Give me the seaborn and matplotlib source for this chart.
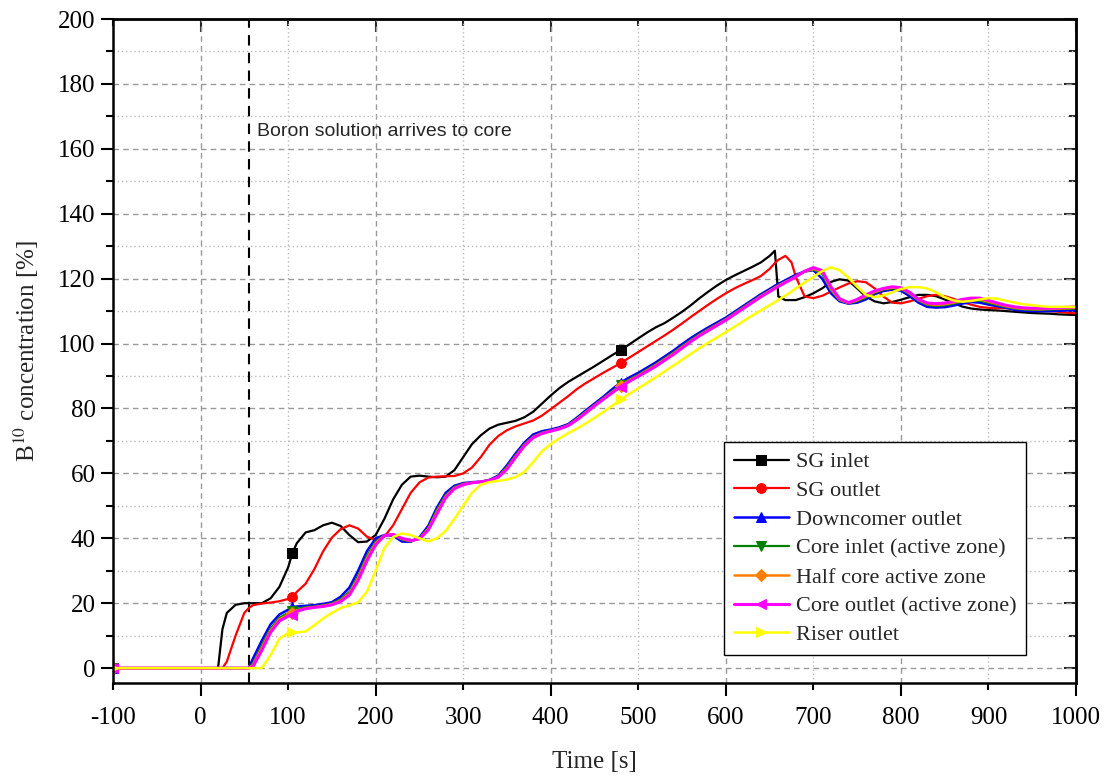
import matplotlib
matplotlib.use("Agg")
import matplotlib.pyplot as plt
from matplotlib.ticker import MultipleLocator, FormatStrFormatter
import pandas as pd
import seaborn as sns

# time grid [s]
time_s = [-100, 0, 10, 20, 25, 30, 40, 50, 55, 60, 70, 80, 90, 100, 105,
          110, 120, 130, 140, 150, 160, 170, 180, 190, 200,
          210, 220, 230, 240, 250, 260, 270, 280, 290, 300,
          310, 320, 330, 340, 350, 360, 370, 380, 390, 400,
          410, 420, 430, 440, 450, 460, 470, 480, 490, 500,
          510, 520, 530, 540, 550, 560, 570, 580, 590, 600,
          610, 620, 630, 640, 650, 656, 660, 668, 670, 675,
          680, 690, 700, 710, 720, 730, 740, 750, 760, 770,
          780, 790, 800, 810, 820, 830, 840, 850, 860, 870,
          880, 890, 900, 910, 920, 930, 940, 950, 960, 970,
          980, 990, 1000]

sg_inlet = [0, 0, 0, 0, 12, 17, 19.5, 20, 20, 20, 20, 21.5, 25, 31, 35.5,
            38.5, 41.8, 42.5, 44, 44.8, 43.8, 41, 38.8, 39, 41,
            46, 52, 56.5, 59, 59.3, 59, 58.8, 59, 61, 65,
            69, 71.7, 73.8, 75, 75.6, 76.2, 77.3, 79, 81.5, 84,
            86.3, 88.2, 89.8, 91.4, 93, 94.7, 96.4, 98, 99.8, 101.6,
            103.4, 105, 106.3, 108, 109.8, 111.8, 114, 116, 117.9, 119.6,
            121, 122.3, 123.6, 125, 127, 128.6, 114.5, 113.4, 113.4, 113.4,
            113.4, 114.3, 115.5, 117, 119, 119.8, 119.4, 117, 114.5, 113,
            112.4, 112.8, 113.5, 114.3, 115, 115, 114.6, 113.6, 112.5, 111.4,
            110.8, 110.5, 110.3, 110.2, 110, 109.8, 109.6, 109.4, 109.3, 109.2,
            109, 108.9, 108.8]

sg_outlet = [0, 0, 0, 0, 0, 2, 10, 17, 18.5, 19.4, 19.9, 20.2, 20.6, 21.3, 22,
             23.5, 26, 30.5, 36, 40.2, 42.8, 44, 43, 40.5, 39.5,
             40.5, 44, 49, 54, 57.2, 58.7, 59, 59.1, 59.2, 60,
             61.8, 65, 68.8, 71.5, 73.3, 74.5, 75.4, 76.3, 77.8, 79.8,
             81.8, 83.8, 86, 87.8, 89.4, 91, 92.5, 94, 95.7, 97.4,
             99.1, 100.8, 102.5, 104.3, 106.2, 108.2, 110.1, 112, 113.8, 115.5,
             117, 118.3, 119.5, 120.8, 123, 124.8, 125.8, 127, 126.5, 125,
             120.5, 114.5, 114, 114.7, 116, 117.3, 118.5, 119.2, 118.9, 117,
             114.5, 112.6, 112.4, 113, 113.8, 114.6, 115, 114.6, 113.8, 112.8,
             112, 111.3, 111, 110.9, 110.9, 110.8, 110.6, 110.4, 110.2, 110,
             109.8, 109.5, 109.3]

downcomer_outlet = [0, 0, 0, 0, 0, 0, 0, 0, 0, 3, 8.5, 13.5, 16.5, 18, 18.7,
                    19, 19.2, 19.4, 19.8, 20.3, 22, 24.8, 30, 36, 40,
                    41, 40.8, 39, 38.9, 40.3, 43.8, 49.5, 54, 56.2, 57,
                    57.3, 57.4, 58, 59.3, 62.5, 66.2, 69.5, 72, 73, 73.5,
                    74.2, 75.2, 77.2, 79.4, 81.5, 83.6, 85.9, 88, 89.6, 91,
                    92.6, 94.2, 96, 97.8, 99.8, 101.7, 103.4, 105, 106.5, 108,
                    109.8, 111.6, 113.4, 115.2, 116.8, 117.8, 118.4, 119.5, 119.8, 120.5,
                    121.2, 122.2, 122.6, 120, 115.5, 113, 112.3, 112.6, 113.6, 115.2,
                    116.2, 116.6, 116.3, 114.6, 112.6, 111.3, 111.1, 111.2, 111.7, 112.3,
                    112.8, 112.6, 112, 111.5, 111, 110.4, 110.1, 110, 110, 110,
                    110.1, 110.2, 110.3]

core_inlet = [0, 0, 0, 0, 0, 0, 0, 0, 0, 1.5, 7, 12.2, 15.5, 17, 17.5,
              18.2, 18.8, 19, 19.4, 19.9, 21.2, 23.5, 28.5, 34.5, 39,
              41, 41, 39.6, 39, 40.1, 43.2, 48.8, 53.3, 55.8, 56.8,
              57.2, 57.4, 57.9, 59.1, 62, 65.6, 69, 71.4, 72.6, 73.2,
              73.9, 75, 76.9, 79, 81.1, 83.2, 85.3, 87.3, 89, 90.4,
              92, 93.6, 95.4, 97.2, 99.2, 101.1, 102.9, 104.5, 106, 107.6,
              109.4, 111.2, 113, 114.8, 116.4, 117.4, 118, 119.1, 119.4, 120.1,
              120.9, 122.2, 122.8, 121.5, 116.5, 113.3, 112.4, 113, 114.2, 115.6,
              116.6, 117, 116.8, 115.3, 113.2, 111.9, 111.6, 111.8, 112.3, 112.9,
              113.3, 113.2, 112.6, 111.9, 111.3, 110.8, 110.5, 110.4, 110.4, 110.5,
              110.6, 110.7, 110.8]

half_core = [0, 0, 0, 0, 0, 0, 0, 0, 0, 1, 6.2, 11.6, 15, 16.5, 17,
             17.8, 18.5, 18.8, 19.2, 19.7, 20.8, 23, 27.8, 33.8, 38.5,
             40.9, 41.1, 39.8, 39.1, 39.9, 42.8, 48.1, 52.9, 55.5, 56.6,
             57.1, 57.4, 57.8, 58.9, 61.6, 65.3, 68.7, 71.2, 72.4, 73.1,
             73.8, 74.8, 76.7, 78.8, 80.9, 83, 85, 87, 88.7, 90.1,
             91.7, 93.3, 95.1, 96.9, 98.9, 100.8, 102.6, 104.2, 105.8, 107.4,
             109.2, 111, 112.8, 114.6, 116.2, 117.2, 117.8, 119, 119.2, 119.9,
             120.7, 122.2, 123, 122.2, 116.8, 113.5, 112.5, 113.3, 114.6, 115.9,
             116.8, 117.2, 117, 115.5, 113.4, 112.2, 111.9, 112.1, 112.6, 113.2,
             113.6, 113.6, 112.9, 112.2, 111.5, 111, 110.7, 110.6, 110.6, 110.7,
             110.8, 110.9, 111]

core_outlet = [0, 0, 0, 0, 0, 0, 0, 0, 0, 0.5, 5.5, 11, 14.5, 16, 16.4,
               17.5, 18.3, 18.7, 19, 19.5, 20.5, 22.5, 27, 33, 38,
               40.8, 41.2, 40, 39.3, 39.8, 42.5, 47.5, 52.5, 55.3, 56.5,
               57.1, 57.4, 57.8, 58.8, 61.3, 65, 68.5, 71, 72.3, 73,
               73.7, 74.7, 76.5, 78.6, 80.8, 82.8, 84.8, 86.7, 88.4, 89.9,
               91.4, 93, 94.8, 96.6, 98.6, 100.6, 102.4, 104, 105.6, 107.2,
               109, 110.8, 112.6, 114.4, 116, 117, 117.6, 118.8, 119.1, 119.8,
               120.6, 122.3, 123.4, 122.5, 117.5, 113.8, 112.6, 113.6, 115, 116.2,
               117, 117.5, 117.2, 115.8, 113.6, 112.5, 112.3, 112.5, 113, 113.6,
               114, 114, 113.3, 112.5, 111.8, 111.3, 111, 110.9, 110.9, 110.9,
               111, 111.2, 111.3]

riser_outlet = [0, 0, 0, 0, 0, 0, 0, 0, 0, 0, 0, 4, 9, 10.8, 11,
                11, 11.3, 13.2, 15.3, 17, 18.5, 19.3, 20.3, 23.5, 30,
                37, 40.4, 41.5, 41, 40, 39, 40, 42.3, 46, 50,
                54, 56.5, 57.3, 57.7, 58.1, 58.9, 60.5, 63.5, 66.8, 69,
                70.8, 72.4, 73.8, 75.4, 77.1, 78.9, 80.8, 82.8, 84.5, 86.2,
                87.9, 89.6, 91.4, 93.2, 95, 96.8, 98.6, 100.3, 101.9, 103.5,
                105.2, 106.9, 108.6, 110.2, 111.8, 112.8, 113.4, 114.8, 115.1, 116,
                117, 118.8, 120.5, 122.3, 123.5, 122.6, 120.3, 117.5, 115, 114.3,
                114.8, 115.8, 116.8, 117.4, 117.4, 117, 115.8, 114.3, 113.3, 112.9,
                113.1, 113.6, 114, 113.8, 113.2, 112.6, 112.1, 111.8, 111.5, 111.3,
                111.3, 111.3, 111.3]

series = [
    ("SG inlet", sg_inlet, "#000000", "s", 1.6),
    ("SG outlet", sg_outlet, "#ff0000", "o", 1.6),
    ("Downcomer outlet", downcomer_outlet, "#0000ff", "^", 1.8),
    ("Core inlet (active zone)", core_inlet, "#008000", "v", 1.6),
    ("Half core active zone", half_core, "#ff8000", "D", 1.8),
    ("Core outlet (active zone)", core_outlet, "#ff00ff", "<", 2.2),
    ("Riser outlet", riser_outlet, "#ffff00", ">", 1.8),
]
marker_times = [-100, 105, 480]
arrival_time = 55

sns.set_style("ticks")
plt.rcParams["font.family"] = ["Liberation Serif", "DejaVu Serif"]
plt.rcParams["mathtext.fontset"] = "stix"

fig, ax = plt.subplots(figsize=(11.1, 7.76), dpi=100)
fig.subplots_adjust(left=0.1018, right=0.9694, top=0.9755, bottom=0.1198)

mark_idx = [time_s.index(t) for t in marker_times]
for label, values, color, marker, lw in series:
    df = pd.DataFrame({"time": time_s, "conc": values})
    ms = 6 if marker == "D" else 7
    sns.lineplot(data=df, x="time", y="conc", color=color, lw=lw, ax=ax,
                 marker=marker, markersize=ms, markevery=mark_idx,
                 markeredgecolor=color, markerfacecolor=color,
                 label=label, legend=False, errorbar=None)

ax.axvline(arrival_time, color="black", ls=(0, (5, 3.5)), lw=1.5, zorder=1)
ax.text(64, 165.3, "Boron solution arrives to core", fontsize=14,
        family=["Liberation Sans", "DejaVu Sans"], va="center", ha="left")

ax.set_xlim(-100, 1000)
ax.set_ylim(-4.6, 200)
ax.xaxis.set_major_locator(MultipleLocator(200))
ax.xaxis.set_minor_locator(MultipleLocator(100))
ax.xaxis.set_major_formatter(FormatStrFormatter("%d"))
ax.xaxis.set_minor_formatter(FormatStrFormatter("%d"))
ax.yaxis.set_major_locator(MultipleLocator(20))
ax.yaxis.set_minor_locator(MultipleLocator(10))

ax.grid(which="major", color="#999999", ls=(0, (4, 3)), lw=1.0)
ax.grid(which="minor", color="#bbbbbb", ls=(0, (1, 2)), lw=1.0)
ax.set_axisbelow(True)

ax.tick_params(axis="both", which="both", labelsize=18, direction="out",
               width=1.5, colors="black")
ax.tick_params(axis="both", which="major", length=9)
ax.tick_params(axis="y", which="minor", length=5)
ax.tick_params(axis="x", which="minor", length=5, pad=12)
ax.tick_params(axis="x", which="major", pad=8)

for sp in ax.spines.values():
    sp.set_visible(True)
    sp.set_linewidth(1.8)
    sp.set_color("black")

# inward ticks on top and right
top = ax.secondary_xaxis("top")
top.xaxis.set_major_locator(MultipleLocator(200))
top.xaxis.set_minor_locator(MultipleLocator(100))
top.tick_params(which="both", direction="in", width=1.5, labeltop=False)
top.tick_params(which="major", length=9)
top.tick_params(which="minor", length=5)
right = ax.secondary_yaxis("right")
right.yaxis.set_major_locator(MultipleLocator(20))
right.yaxis.set_minor_locator(MultipleLocator(10))
right.tick_params(which="both", direction="in", width=1.5, labelright=False)
right.tick_params(which="major", length=9)
right.tick_params(which="minor", length=5)
for sec in (top, right):
    for sp in sec.spines.values():
        sp.set_linewidth(1.8)

ax.set_xlabel("Time [s]", fontsize=18, labelpad=16)
ax.set_ylabel("B$^{10}$ concentration [%]", fontsize=18, labelpad=12)

handles, labels = ax.get_legend_handles_labels()
leg = ax.legend(handles, labels, loc="lower left", bbox_to_anchor=(0.634, 0.042),
                fontsize=16, frameon=True, fancybox=False, framealpha=1,
                edgecolor="black", handlelength=2.5, labelspacing=0.37,
                borderpad=0.45, handletextpad=0.3, borderaxespad=0.0, numpoints=1)
leg.get_frame().set_linewidth(1.0)

fig.savefig("out.png", dpi=100)
